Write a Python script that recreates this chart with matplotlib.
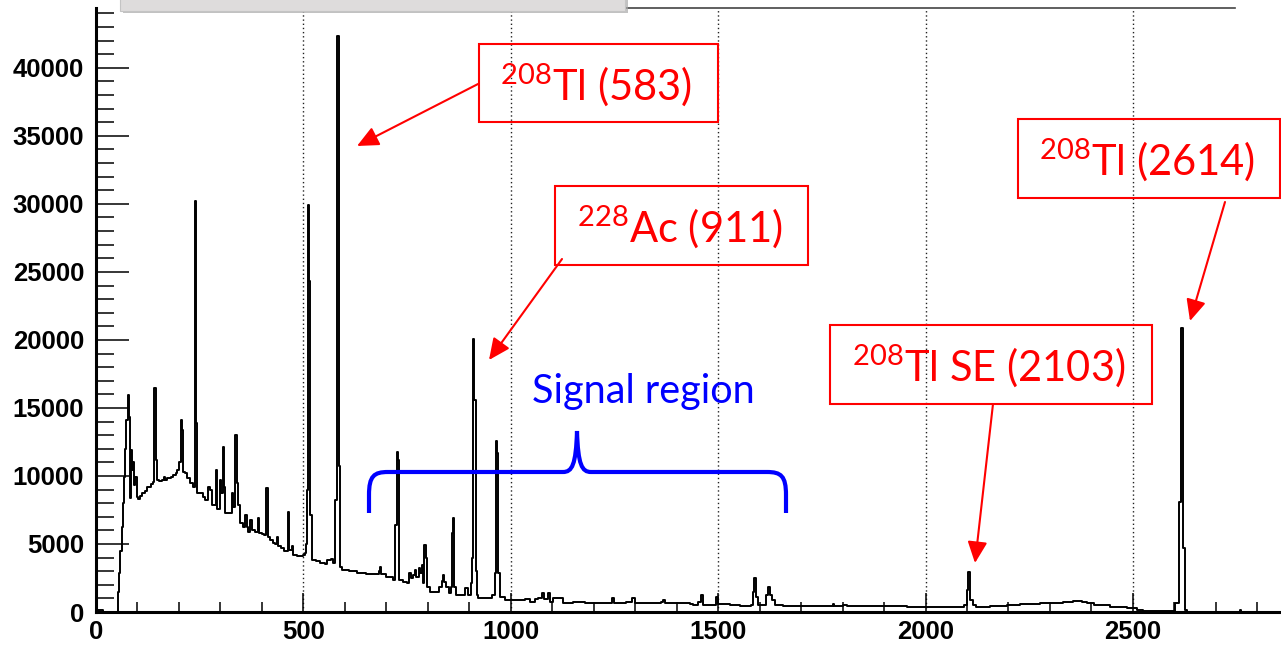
import matplotlib
matplotlib.use('Agg')
import matplotlib.pyplot as plt
from matplotlib.patches import Rectangle, PathPatch, FancyArrowPatch
from matplotlib.path import Path
from matplotlib.lines import Line2D

plt.rcParams['mathtext.fontset'] = 'custom'
plt.rcParams['mathtext.rm'] = 'Lato'

# ---------------- data ----------------
# histogram trace: bin start energy (keV) and counts (step, held until next energy)
energy = [0, 16, 52, 54, 56, 59, 62, 65, 68, 71, 73, 76, 79, 81, 83, 85, 88, 90, 92, 95,
          98, 101, 106, 112, 118, 124, 132, 138, 141, 144, 146, 152, 158, 163, 166, 172,
          180, 186, 192, 196, 200, 204, 206.5, 209, 214, 220, 227, 233, 238, 239.5, 242,
          244.5, 250, 257, 262, 269, 271, 274, 279, 286, 289, 292.5, 298, 302, 306.5,
          309.5, 312, 320, 327, 331, 336, 339.5, 343, 348, 355, 359, 363, 366, 371, 375,
          383, 390, 394, 400, 405, 410, 414, 420, 426, 432, 436, 439, 446, 454, 462, 466,
          472, 476, 484, 494, 500, 504, 506, 508, 510, 514, 517, 520, 530, 540, 552, 558,
          566, 571, 577, 581.5, 585, 588.5, 594, 610, 630, 650, 670, 682, 684, 687, 700,
          709, 716, 722, 725, 728, 731, 740, 749, 755, 759, 765, 768, 772, 778, 782, 785,
          788, 792, 796, 799, 806, 818, 826, 833, 836, 840, 845, 850, 856, 858, 860, 863,
          868, 884, 890, 896, 903, 907, 909, 912, 915, 918, 921, 940, 955, 962, 964, 967,
          970, 974, 985, 998, 1022, 1034, 1046, 1058, 1066, 1076, 1080, 1090, 1095, 1102,
          1119, 1125, 1150, 1160, 1180, 1199, 1238, 1245, 1250, 1278, 1292, 1299, 1328,
          1362, 1366, 1372, 1400, 1432, 1440, 1452, 1458, 1463, 1488, 1495, 1500, 1529,
          1553, 1578, 1583, 1587, 1591, 1596, 1612, 1615, 1620, 1624, 1631, 1638, 1657,
          1697, 1740, 1776, 1780, 1802, 1810, 1874, 1955, 2003, 2035, 2075, 2093, 2099,
          2103, 2108, 2114, 2121, 2156, 2196, 2228, 2276, 2308, 2332, 2356, 2377, 2389,
          2405, 2445, 2485, 2509, 2525, 2602, 2612, 2617, 2621, 2625, 2630, 2755, 2757,
          2760, 2857]
counts = [150, 0, 0, 1500, 2870, 4500, 6270, 8000, 9950, 12000, 14100, 15950, 14300, 8380,
          8380, 11900, 10440, 11000, 9300, 9950, 8480, 8300, 8500, 8740, 8900, 9210, 9400,
          9580, 16450, 11170, 9700, 9600, 9700, 9950, 9700, 9850, 9900, 10070, 10250,
          10440, 11000, 14100, 13400, 10300, 10200, 9850, 9500, 9210, 9300, 30200, 13900,
          8740, 8740, 8480, 8240, 8350, 9200, 8950, 7870, 7900, 10440, 7600, 9700, 8740,
          12150, 9200, 7270, 7250, 8740, 7750, 13000, 9450, 7870, 6540, 6270, 7130, 6270,
          5900, 6760, 6020, 5900, 6900, 5830, 5700, 5660, 9100, 5520, 5300, 5070, 5000,
          5520, 4830, 4700, 4460, 7380, 4580, 4830, 4190, 4090, 4090, 4190, 4310, 5000,
          9000, 29900, 24300, 7130, 3820, 3750, 3600, 3530, 3820, 3920, 3600, 8240, 42350,
          10700, 3330, 3090, 3010, 2840, 2760, 2760, 3000, 3330, 2760, 2600, 2600, 2350,
          6400, 11790, 11180, 2350, 2200, 2110, 2840, 2500, 2700, 3090, 2600, 3200, 2900,
          3460, 2110, 4930, 4000, 1860, 1500, 1500, 1860, 2300, 2720, 2200, 1860, 1370,
          1860, 5780, 6940, 1860, 1250, 1250, 1760, 1250, 2110, 4000, 20100, 15600, 3000,
          1250, 1000, 1000, 1250, 2840, 12600, 11700, 2840, 1130, 880, 880, 880, 930, 760,
          930, 1000, 1370, 930, 1370, 760, 1050, 1050, 690, 760, 740, 640, 640, 690, 1000,
          690, 760, 1000, 690, 640, 700, 880, 640, 640, 600, 510, 700, 1250, 510, 510,
          1130, 600, 510, 440, 520, 1490, 2480, 1130, 510, 520, 1250, 1860, 1250, 880, 500,
          440, 430, 420, 590, 470, 510, 450, 440, 390, 360, 380, 390, 510, 1620, 2960, 880,
          510, 390, 420, 510, 590, 640, 690, 740, 810, 760, 640, 510, 390, 270, 150, 40,
          640, 8110, 20860, 4680, 150, 30, 30, 150, 30, 30]

x_major = [0, 500, 1000, 1500, 2000, 2500]
x_labels = ['0', '500', '1000', '1500', '2000', '2500']
y_major = [0, 5000, 10000, 15000, 20000, 25000, 30000, 35000, 40000]
y_labels = ['0', '5000', '10000', '15000', '20000', '25000', '30000', '35000', '40000']

peak_labels = ['$^{208}$Tl (583)', '$^{228}$Ac (911)', '$^{208}$Tl (2614)', '$^{208}$Tl SE (2103)']
region_label = 'Signal region'

# ---------------- layout helpers ----------------
W, H = 1281, 646


def P(x, y):
    return (x / W, 1 - y / H)


fig = plt.figure(figsize=(W / 100, H / 100), dpi=100)
ax = fig.add_axes([96 / W, 1 - 612 / H, (W - 96) / W, (612 - 8) / H])

ax.step(energy, counts, where='post', color='black', lw=1.4, zorder=3)
ax.set_xlim(0, 2857)
ax.set_ylim(0, 44400)

for s in ['top', 'right']:
    ax.spines[s].set_visible(False)
for s in ['left', 'bottom']:
    ax.spines[s].set_linewidth(2.2)
    ax.spines[s].set_zorder(4)

ax.set_xticks(x_major)
ax.set_xticklabels(x_labels)
ax.set_xticks(list(range(0, 2857, 100)), minor=True)
ax.set_yticks(y_major)
ax.set_yticklabels(y_labels)
ax.set_yticks(list(range(0, 44400, 1000)), minor=True)

ax.tick_params(axis='x', which='major', direction='in', length=14, width=1.1, pad=6)
ax.tick_params(axis='x', which='minor', direction='in', length=7.2, width=1.1)
ax.tick_params(axis='y', which='major', direction='in', length=24, width=1.1, pad=8.5)
ax.tick_params(axis='y', which='minor', direction='in', length=13, width=1.1)
for lab in ax.get_xticklabels() + ax.get_yticklabels():
    lab.set_fontfamily(['Liberation Sans', 'DejaVu Sans'])
    lab.set_fontweight('bold')
    lab.set_fontsize(18.5)

ax.grid(axis='x', which='major', linestyle=(0, (1, 2)), color='#222222', lw=1.0)
ax.set_axisbelow(True)

# top frame line and cut-off title box
fig.add_artist(Line2D([625 / W, 1235 / W], [1 - 8 / H, 1 - 8 / H], color='#444444', lw=1.2))
x0, y0 = P(123, 13)
fig.add_artist(Rectangle((x0, y0), 505 / W, 20 / H, transform=fig.transFigure,
                         facecolor='#a8a8a8', edgecolor='none', alpha=0.7, zorder=5))
x0, y0 = P(120, 10.5)
fig.add_artist(Rectangle((x0, y0), 505 / W, 20 / H, transform=fig.transFigure,
                         facecolor='#dedcdc', edgecolor='#c4c4c4', lw=0.8, zorder=6))

# annotation boxes (pixel layout)
boxes = [(479, 44, 718, 122), (555, 186, 808, 265), (1018, 119, 1280, 198), (830, 325, 1152, 404)]
arrows = [((478, 84), (357, 146)), ((562, 259), (489, 360)),
          ((1225, 202), (1190, 321)), ((993, 404), (975, 563))]
red = '#ff0000'
blue = '#0000ff'
for lab, (bx0, by0, bx1, by1), (tail, tip) in zip(peak_labels, boxes, arrows):
    xa, ya = P(bx0, by1)
    fig.add_artist(Rectangle((xa, ya), (bx1 - bx0) / W, (by1 - by0) / H,
                             transform=fig.transFigure, fill=False, edgecolor=red, lw=1.5, zorder=7))
    cx, cy = P((bx0 + bx1) / 2 - 2, (by0 + by1) / 2 + 2)
    fig.text(cx, cy, lab, color=red, fontsize=30, family=['Lato', 'DejaVu Sans'],
             ha='center', va='center', zorder=8)
    fig.add_artist(FancyArrowPatch(P(*tail), P(*tip), transform=fig.transFigure,
                                   arrowstyle='-|>,head_length=0.65,head_width=0.3',
                                   mutation_scale=20, color=red, lw=1.5,
                                   shrinkA=0, shrinkB=0, zorder=8))

# signal region label and brace
cx, cy = P(643, 392)
fig.text(cx, cy, region_label, color=blue, fontsize=28.5, family=['Lato', 'DejaVu Sans'],
         ha='center', va='center')
brace_px = [(369, 513), (369, 495), (369, 476), (374, 472), (388, 472), (563, 472),
            (572, 472), (576, 465), (577, 431), (578, 465), (582, 472), (591, 472),
            (767, 472), (781, 472), (786, 476), (786, 495), (786, 513)]
codes = [Path.MOVETO, Path.LINETO, Path.CURVE4, Path.CURVE4, Path.CURVE4, Path.LINETO,
         Path.CURVE4, Path.CURVE4, Path.CURVE4, Path.CURVE4, Path.CURVE4, Path.CURVE4,
         Path.LINETO, Path.CURVE4, Path.CURVE4, Path.CURVE4, Path.LINETO]
brace = Path([P(x, y) for x, y in brace_px], codes)
fig.add_artist(PathPatch(brace, transform=fig.transFigure, fill=False, edgecolor=blue,
                         lw=3.0, capstyle='butt', zorder=6))

fig.savefig('out.png', dpi=100)
